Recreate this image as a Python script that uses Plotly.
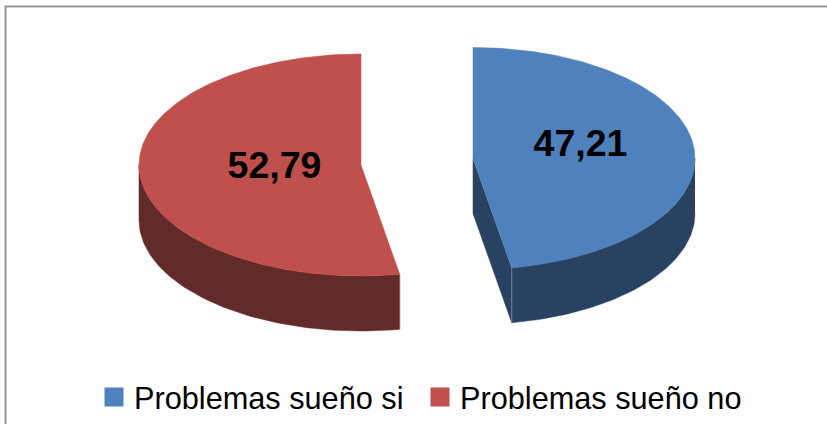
import numpy as np
import plotly.graph_objects as go

categories = ["Problemas sueño si", "Problemas sueño no"]
values = [47.21, 52.79]
value_labels = ["47,21", "52,79"]
top_colors = ["#4f81bd", "#c0504d"]
side_colors = ["#2a4261", "#622a28"]
edge_colors = ["#6d86a3", "#8a5a58"]

W, H = 827, 424
centers = [(473.0, 158.5), (361.0, 165.0)]
RX, RY, DEPTH = 222.0, 111.0, 55.0
label_pos = [(580.5, 146.5), (274.5, 168.5)]


def ell(c, deg):
    t = np.radians(deg)
    return c[0] + RX * np.sin(t), c[1] - RY * np.cos(t)


total = sum(values)
cut = 360.0 * values[0] / total
spans = [(0.0, cut), (cut, 360.0)]
visible = [(90.0, cut), (cut, 270.0)]

fig = go.Figure()


def poly(x, y, fill, line=None):
    fig.add_trace(go.Scatter(
        x=list(x), y=list(y), mode="lines", fill="toself", fillcolor=fill,
        line=dict(color=line or fill, width=0.5), showlegend=False, hoverinfo="skip"))


for i in range(2):
    c = centers[i]
    # rim wall
    a = np.linspace(visible[i][0], visible[i][1], 80)
    ex, ey = ell(c, a)
    poly(np.r_[ex, ex[::-1]], np.r_[ey, ey[::-1] + DEPTH], side_colors[i])
    # cut wall (only the first slice faces the viewer)
    if i == 0:
        px, py = ell(c, cut)
        poly([c[0], c[0], px, px], [c[1], c[1] + DEPTH, py + DEPTH, py], side_colors[i])
    # corner edge
    px, py = ell(c, cut)
    fig.add_trace(go.Scatter(x=[px, px], y=[py, py + DEPTH], mode="lines",
                             line=dict(color=edge_colors[i], width=1),
                             showlegend=False, hoverinfo="skip"))
    # top face
    a = np.linspace(spans[i][0], spans[i][1], 240)
    ex, ey = ell(c, a)
    poly(np.r_[c[0], ex, c[0]], np.r_[c[1], ey, c[1]], top_colors[i])

for i in range(2):
    fig.add_trace(go.Scatter(
        x=[label_pos[i][0]], y=[label_pos[i][1]], mode="text", text=[value_labels[i]],
        textposition="middle center", showlegend=False, hoverinfo="skip",
        textfont=dict(family="Liberation Sans", size=37.5, color="#000000", weight="bold")))

for i in range(2):
    fig.add_trace(go.Scatter(
        x=[None], y=[None], mode="markers", name=categories[i],
        marker=dict(symbol="square", size=16, color=top_colors[i],
                    line=dict(color=top_colors[i], width=3))))

fig.update_layout(
    width=W, height=H, autosize=False,
    margin=dict(l=0, r=0, t=0, b=0),
    paper_bgcolor="#ffffff", plot_bgcolor="#ffffff",
    xaxis=dict(range=[0, W], visible=False, fixedrange=True),
    yaxis=dict(range=[H, 0], visible=False, fixedrange=True),
    showlegend=True,
    legend=dict(orientation="h", x=94 / W, y=1 - 397 / H, xanchor="left", yanchor="middle",
                font=dict(family="Liberation Sans", size=30.7, color="#000000"),
                entrywidth=281, entrywidthmode="pixels",
                bgcolor="rgba(0,0,0,0)", itemclick=False, itemdoubleclick=False),
    shapes=[dict(type="rect", xref="x", yref="y", x0=5.5, y0=6.5, x1=W + 20, y1=H + 20,
                 line=dict(color="#989898", width=2), layer="below")],
)
fig.write_html("out.html", config={"displayModeBar": False},
               post_script="document.body.style.margin='0';document.documentElement.style.overflow='hidden';")
